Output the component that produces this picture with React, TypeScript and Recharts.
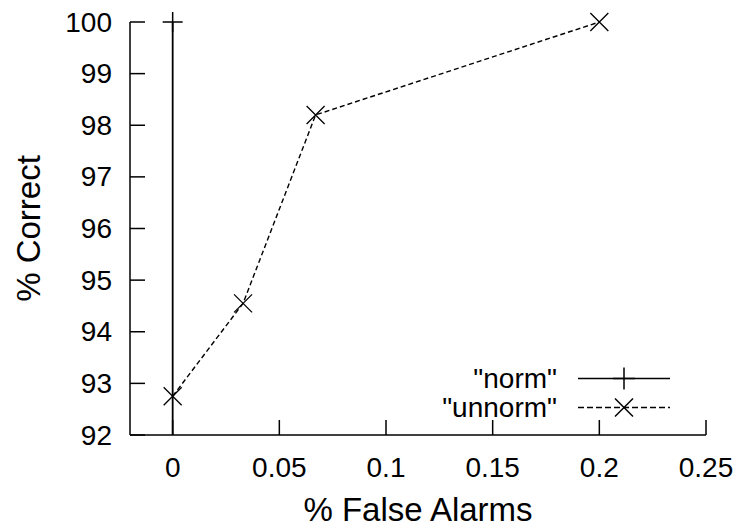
import React from 'react';
import { LineChart, Line, XAxis, YAxis, Legend } from 'recharts';

// axis ticks
const X_TICKS = [0, 0.05, 0.1, 0.15, 0.2, 0.25];
const X_TICK_LABELS = ['0', '0.05', '0.1', '0.15', '0.2', '0.25'];
const Y_TICKS = [92, 93, 94, 95, 96, 97, 98, 99, 100];
const X_DOMAIN = [-0.02, 0.25];
const Y_DOMAIN = [92, 100];

// "norm" runs straight up the x = 0 line
const NORM_X = [0, 0];
const NORM_Y = [92, 100];

// "unnorm" curve
const UNNORM_X = [0, 0.033, 0.067, 0.2];
const UNNORM_Y = [92.75, 94.55, 98.2, 100];

const SERIES_NAMES = ['"norm"', '"unnorm"'];

const norm = NORM_X.map((x, i) => ({ x, y: NORM_Y[i] }));
const unnorm = UNNORM_X.map((x, i) => ({ x, y: UNNORM_Y[i] }));

const FONT = '"Liberation Sans", Arial, Helvetica, sans-serif';
const INK = '#000';

const plusPath = (cx: number, cy: number, r = 10) =>
  `M${cx - r},${cy}H${cx + r}M${cx},${cy - r}V${cy + r}`;
const crossPath = (cx: number, cy: number, r = 9) =>
  `M${cx - r},${cy - r}L${cx + r},${cy + r}M${cx - r},${cy + r}L${cx + r},${cy - r}`;

// gnuplot drops points sitting on the clipped floor, so skip those markers
const PlusDot = (props: any) => {
  const { cx, cy, payload, index } = props;
  if (payload.y <= Y_DOMAIN[0]) return <g key={`p-${index}`} />;
  return <path key={`p-${index}`} d={plusPath(cx, cy)} stroke={INK} strokeWidth={1.5} fill="none" />;
};

const CrossDot = (props: any) => {
  const { cx, cy, index } = props;
  return <path key={`c-${index}`} d={crossPath(cx, cy)} stroke={INK} strokeWidth={1.3} fill="none" />;
};

const XTick = (props: any) => {
  const { x, y, payload } = props;
  const i = X_TICKS.indexOf(payload.value);
  return (
    <g>
      <line x1={x} x2={x} y1={y} y2={y - 15} stroke={INK} strokeWidth={1.5} />
      <text x={x} y={y + 32} textAnchor="middle" dominantBaseline="central"
        fontFamily={FONT} fontSize={28} fill={INK}>
        {i >= 0 ? X_TICK_LABELS[i] : payload.value}
      </text>
    </g>
  );
};

const YTick = (props: any) => {
  const { x, y, payload } = props;
  return (
    <g>
      <line x1={x} x2={x + 15} y1={y} y2={y} stroke={INK} strokeWidth={1.5} />
      <text x={x - 18} y={y} textAnchor="end" dominantBaseline="central"
        fontFamily={FONT} fontSize={28} fill={INK}>
        {payload.value}
      </text>
    </g>
  );
};

const LegendBox = () => (
  <div style={{ fontFamily: FONT, fontSize: 28, color: INK }}>
    {SERIES_NAMES.map((name, i) => (
      <div key={name} style={{ display: 'flex', alignItems: 'center', height: 29 }}>
        <span style={{ width: 127, textAlign: 'right', lineHeight: '29px', whiteSpace: 'nowrap' }}>{name}</span>
        <svg width={113} height={29} style={{ display: 'block' }}>
          <line x1={21} x2={113} y1={14.5} y2={14.5} stroke={INK}
            strokeWidth={1.5} strokeDasharray={i === 1 ? '6 3' : undefined} />
          <path d={i === 0 ? plusPath(67, 14.5, 11) : crossPath(67, 14.5)} stroke={INK}
            strokeWidth={1.5} fill="none" />
        </svg>
      </div>
    ))}
  </div>
);

export default function App() {
  return (
    <div style={{ position: 'absolute', left: 0, top: 0, background: '#fff' }}>
      <LineChart width={736} height={529} margin={{ top: 22, right: 30, bottom: 93, left: 129 }}>
        <XAxis
          type="number"
          dataKey="x"
          domain={X_DOMAIN}
          ticks={X_TICKS}
          height={1}
          tickSize={0}
          tickMargin={0}
          tickLine={false}
          axisLine={{ stroke: INK, strokeWidth: 1.5 }}
          tick={<XTick />}
          interval={0}
          label={{
            content: ({ viewBox }: any) => (
              <text x={viewBox.x + viewBox.width / 2} y={viewBox.y + 74} textAnchor="middle"
                dominantBaseline="central" fontFamily={FONT} fontSize={33} fill={INK}>
                % False Alarms
              </text>
            ),
          }}
        />
        <YAxis
          type="number"
          dataKey="y"
          domain={Y_DOMAIN}
          ticks={Y_TICKS}
          width={1}
          tickSize={0}
          tickMargin={0}
          tickLine={false}
          axisLine={{ stroke: INK, strokeWidth: 1.5 }}
          tick={<YTick />}
          interval={0}
          label={{
            content: ({ viewBox }: any) => {
              const cx = viewBox.x + viewBox.width - 102;
              const cy = viewBox.y + viewBox.height / 2;
              return (
                <text x={cx} y={cy} textAnchor="middle" dominantBaseline="central"
                  transform={`rotate(-90 ${cx} ${cy})`} fontFamily={FONT} fontSize={33} fill={INK}>
                  % Correct
                </text>
              );
            },
          }}
        />
        <Legend
          layout="horizontal"
          verticalAlign="middle"
          align="center"
          content={<LegendBox />}
          wrapperStyle={{ position: 'absolute', left: 430, top: 363.5, width: 250, height: 58 }}
        />
        <Line
          data={norm}
          dataKey="y"
          name={SERIES_NAMES[0]}
          type="linear"
          stroke={INK}
          strokeWidth={1.8}
          dot={PlusDot}
          activeDot={false}
          isAnimationActive={false}
        />
        <Line
          data={unnorm}
          dataKey="y"
          name={SERIES_NAMES[1]}
          type="linear"
          stroke={INK}
          strokeWidth={1.4}
          strokeDasharray="5 3"
          dot={CrossDot}
          activeDot={false}
          isAnimationActive={false}
        />
      </LineChart>
    </div>
  );
}
